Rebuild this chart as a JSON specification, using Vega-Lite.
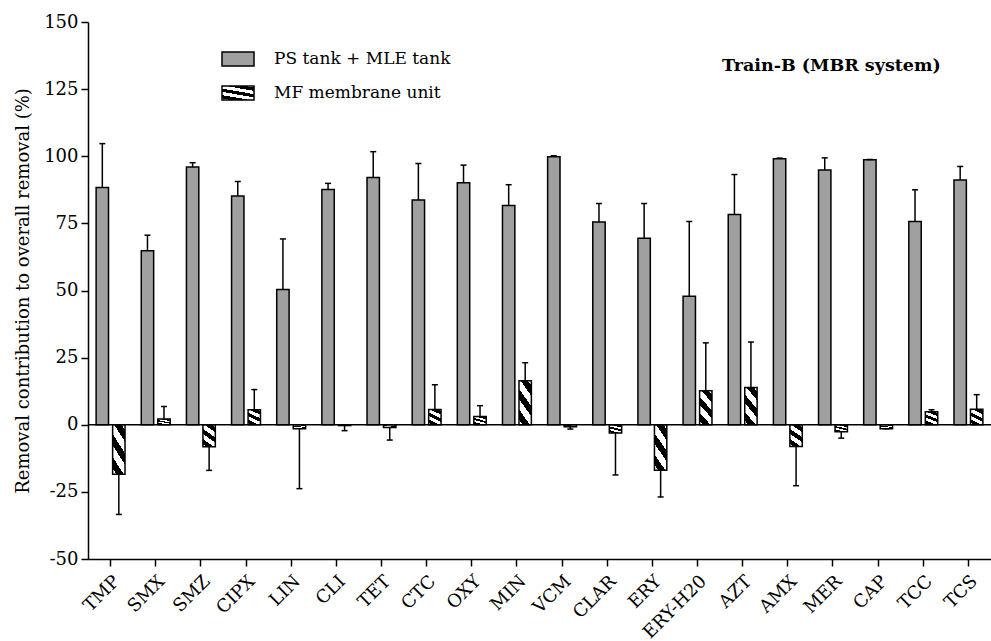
{
  "$schema": "https://vega.github.io/schema/vega-lite/v6.json",
  "autosize": {"type": "none"},
  "padding": {"left": 88, "top": 22, "right": 0, "bottom": 82},
  "width": 903,
  "height": 537,
  "background": "white",
  "config": {
    "view": {"stroke": null},
    "font": "DejaVu Serif"
  },
  "title": {
    "text": "Train-B (MBR system)",
    "anchor": "end",
    "orient": "top",
    "font": "DejaVu Serif",
    "fontSize": 17.5,
    "fontWeight": "bold",
    "color": "black",
    "dx": -51,
    "dy": 65
  },
  "data": {
    "values": [
      {"drug": "TMP", "series": "PS tank + MLE tank", "value": 88.4, "errEnd": 104.7},
      {"drug": "TMP", "series": "MF membrane unit", "value": -18.4, "errEnd": -33.4},
      {"drug": "SMX", "series": "PS tank + MLE tank", "value": 64.8, "errEnd": 70.6},
      {"drug": "SMX", "series": "MF membrane unit", "value": 2.1, "errEnd": 6.8},
      {"drug": "SMZ", "series": "PS tank + MLE tank", "value": 96.0, "errEnd": 97.6},
      {"drug": "SMZ", "series": "MF membrane unit", "value": -8.2, "errEnd": -17.0},
      {"drug": "CIPX", "series": "PS tank + MLE tank", "value": 85.2, "errEnd": 90.6},
      {"drug": "CIPX", "series": "MF membrane unit", "value": 5.6, "errEnd": 13.1},
      {"drug": "LIN", "series": "PS tank + MLE tank", "value": 50.4, "errEnd": 69.2},
      {"drug": "LIN", "series": "MF membrane unit", "value": -1.5, "errEnd": -23.8},
      {"drug": "CLI", "series": "PS tank + MLE tank", "value": 87.6, "errEnd": 89.9},
      {"drug": "CLI", "series": "MF membrane unit", "value": -0.3, "errEnd": -2.2},
      {"drug": "TET", "series": "PS tank + MLE tank", "value": 92.1, "errEnd": 101.7},
      {"drug": "TET", "series": "MF membrane unit", "value": -1.0, "errEnd": -5.7},
      {"drug": "CTC", "series": "PS tank + MLE tank", "value": 83.7, "errEnd": 97.3},
      {"drug": "CTC", "series": "MF membrane unit", "value": 5.7, "errEnd": 14.9},
      {"drug": "OXY", "series": "PS tank + MLE tank", "value": 90.1, "errEnd": 96.7},
      {"drug": "OXY", "series": "MF membrane unit", "value": 3.1, "errEnd": 7.1},
      {"drug": "MIN", "series": "PS tank + MLE tank", "value": 81.7, "errEnd": 89.4},
      {"drug": "MIN", "series": "MF membrane unit", "value": 16.4, "errEnd": 23.1},
      {"drug": "VCM", "series": "PS tank + MLE tank", "value": 99.8, "errEnd": 100.2},
      {"drug": "VCM", "series": "MF membrane unit", "value": -0.7, "errEnd": -1.6},
      {"drug": "CLAR", "series": "PS tank + MLE tank", "value": 75.5, "errEnd": 82.4},
      {"drug": "CLAR", "series": "MF membrane unit", "value": -3.1, "errEnd": -18.7},
      {"drug": "ERY", "series": "PS tank + MLE tank", "value": 69.5, "errEnd": 82.4},
      {"drug": "ERY", "series": "MF membrane unit", "value": -16.9, "errEnd": -26.9},
      {"drug": "ERY-H20", "series": "PS tank + MLE tank", "value": 47.9, "errEnd": 75.7},
      {"drug": "ERY-H20", "series": "MF membrane unit", "value": 12.7, "errEnd": 30.5},
      {"drug": "AZT", "series": "PS tank + MLE tank", "value": 78.3, "errEnd": 93.2},
      {"drug": "AZT", "series": "MF membrane unit", "value": 13.9, "errEnd": 30.8},
      {"drug": "AMX", "series": "PS tank + MLE tank", "value": 99.1, "errEnd": 99.3},
      {"drug": "AMX", "series": "MF membrane unit", "value": -8.1, "errEnd": -22.7},
      {"drug": "MER", "series": "PS tank + MLE tank", "value": 94.9, "errEnd": 99.4},
      {"drug": "MER", "series": "MF membrane unit", "value": -2.6, "errEnd": -5.0},
      {"drug": "CAP", "series": "PS tank + MLE tank", "value": 98.7, "errEnd": 98.8},
      {"drug": "CAP", "series": "MF membrane unit", "value": -1.5, "errEnd": -1.5},
      {"drug": "TCC", "series": "PS tank + MLE tank", "value": 75.7, "errEnd": 87.5},
      {"drug": "TCC", "series": "MF membrane unit", "value": 4.8, "errEnd": 5.6},
      {"drug": "TCS", "series": "PS tank + MLE tank", "value": 91.2, "errEnd": 96.2},
      {"drug": "TCS", "series": "MF membrane unit", "value": 5.8, "errEnd": 11.2}
    ]
  },
  "encoding": {
    "x": {
      "field": "drug",
      "type": "nominal",
      "sort": null,
      "scale": {"paddingInner": 0.36, "paddingOuter": 0.18},
      "axis": {
        "title": null,
        "labelAngle": -45,
        "labelAlign": "right",
        "labelBaseline": "top",
        "labelFont": "DejaVu Serif",
        "labelFontSize": 18,
        "labelColor": "black",
        "labelPadding": 6,
        "tickSize": 7,
        "tickWidth": 1.5,
        "tickColor": "black",
        "domainColor": "black",
        "domainWidth": 1.5
      }
    },
    "xOffset": {
      "field": "series",
      "type": "nominal",
      "sort": ["PS tank + MLE tank", "MF membrane unit"],
      "scale": {"paddingInner": 0.25, "paddingOuter": 0}
    }
  },
  "layer": [
    {
      "mark": {"type": "bar", "stroke": "black", "strokeWidth": 1.5, "opacity": 1},
      "encoding": {
        "y": {
          "field": "value",
          "type": "quantitative",
          "scale": {"domain": [-50, 150], "nice": false, "zero": false},
          "axis": {
            "title": "Removal contribution to overall removal (%)",
            "titleFont": "DejaVu Serif",
            "titleFontSize": 18,
            "titleFontWeight": "normal",
            "titleColor": "black",
            "titlePadding": 11,
            "values": [-50, -25, 0, 25, 50, 75, 100, 125, 150],
            "labelExpr": "toString(datum.value)",
            "grid": false,
            "labelFont": "DejaVu Serif",
            "labelFontSize": 18,
            "labelColor": "black",
            "labelPadding": 3,
            "tickSize": 7,
            "tickWidth": 1.5,
            "tickColor": "black",
            "domainColor": "black",
            "domainWidth": 1.5
          }
        },
        "fill": {
          "field": "series",
          "type": "nominal",
          "sort": ["PS tank + MLE tank", "MF membrane unit"],
          "scale": {
            "domain": ["PS tank + MLE tank", "MF membrane unit"],
            "range": [
              "#a0a0a0",
              {"expr": "{gradient: 'linear', x1: 0, y1: 1, x2: 0.48, y2: -0.21, stops: [{offset: 0, color: 'white'}, {offset: 0.083, color: 'white'}, {offset: 0.083, color: 'black'}, {offset: 0.25, color: 'black'}, {offset: 0.25, color: 'white'}, {offset: 0.417, color: 'white'}, {offset: 0.417, color: 'black'}, {offset: 0.583, color: 'black'}, {offset: 0.583, color: 'white'}, {offset: 0.75, color: 'white'}, {offset: 0.75, color: 'black'}, {offset: 0.917, color: 'black'}, {offset: 0.917, color: 'white'}, {offset: 1, color: 'white'}]}"}
            ]
          },
          "legend": {
            "title": null,
            "orient": "none",
            "legendX": 133,
            "legendY": 20,
            "symbolType": "M-1,-0.4375H1V0.4375H-1Z",
            "symbolSize": 1024,
            "symbolStrokeColor": "black",
            "symbolStrokeWidth": 1.5,
            "symbolOpacity": 1,
            "labelFont": "DejaVu Serif",
            "labelFontSize": 17,
            "labelColor": "black",
            "labelOffset": 19,
            "labelLimit": 0,
            "rowPadding": 7,
            "encode": {
              "symbols": {
                "update": {
                  "stroke": {"value": "black"},
                  "strokeWidth": {"value": 1.5}
                }
              }
            }
          }
        }
      }
    },
    {
      "mark": {"type": "rule", "color": "black", "strokeWidth": 1.5},
      "encoding": {
        "y": {"field": "value", "type": "quantitative"},
        "y2": {"field": "errEnd"}
      }
    },
    {
      "mark": {"type": "tick", "color": "black", "thickness": 1.5, "size": 6, "opacity": 1},
      "encoding": {
        "y": {"field": "errEnd", "type": "quantitative"}
      }
    },
    {
      "data": {"values": [{"zero": 0}]},
      "mark": {"type": "rule", "color": "black", "strokeWidth": 1.5},
      "encoding": {
        "x": null,
        "xOffset": null,
        "y": {"field": "zero", "type": "quantitative"}
      }
    }
  ]
}
